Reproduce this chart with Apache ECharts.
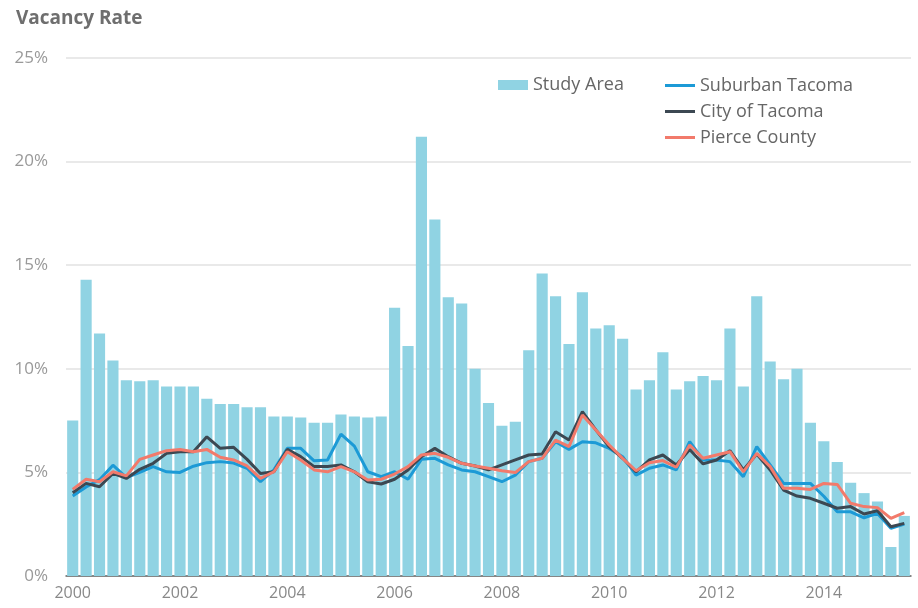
<!DOCTYPE html>
<html>
<head>
<meta charset="utf-8">
<script src="https://cdn.jsdelivr.net/npm/echarts@6/dist/echarts.min.js"></script>
<style>
html,body{margin:0;padding:0;background:#fff;}
#chart{width:918px;height:608px;}
</style>
</head>
<body>
<div id="chart"></div>
<script>
// Quarterly categories 2000 Q1 .. 2015 Q3
const years = ['2000','2001','2002','2003','2004','2005','2006','2007','2008','2009','2010','2011','2012','2013','2014','2015'];
const quarters = ['Q1','Q2','Q3','Q4'];
const categories = [];
years.forEach(y => quarters.forEach(q => categories.push(y + ' ' + q)));
categories.length = 63;

const yTicks = [0, 5, 10, 15, 20, 25];

const studyArea = [
  7.5, 14.3, 11.7, 10.4, 9.45, 9.4, 9.45, 9.15,
  9.15, 9.15, 8.55, 8.3, 8.3, 8.15, 8.15, 7.7,
  7.7, 7.65, 7.4, 7.4, 7.8, 7.7, 7.65, 7.7,
  12.95, 11.1, 21.2, 17.2, 13.45, 13.15, 10.0, 8.35,
  7.25, 7.45, 10.9, 14.6, 13.5, 11.2, 13.7, 11.95,
  12.1, 11.45, 9.0, 9.45, 10.8, 9.0, 9.4, 9.65,
  9.45, 11.95, 9.15, 13.5, 10.35, 9.5, 10.0, 7.4,
  6.5, 5.5, 4.5, 4.0, 3.6, 1.4, 2.9
];

const suburbanTacoma = [
  3.86, 4.3, 4.65, 5.35, 4.75, 5.0, 5.28, 5.03,
  5.0, 5.3, 5.47, 5.52, 5.45, 5.2, 4.55, 5.12,
  6.16, 6.16, 5.56, 5.6, 6.85, 6.27, 5.03, 4.8,
  5.03, 4.67, 5.63, 5.68, 5.36, 5.12, 5.03, 4.8,
  4.55, 4.87, 5.52, 5.68, 6.48, 6.11, 6.48, 6.43,
  6.16, 5.76, 4.87, 5.2, 5.36, 5.12, 6.48, 5.6,
  5.6, 5.52, 4.79, 6.24, 5.36, 4.47, 4.47, 4.47,
  3.85, 3.1, 3.1, 2.81, 3.02, 2.3, 2.51
];

const cityOfTacoma = [
  4.02, 4.47, 4.31, 4.95, 4.71, 5.15, 5.44, 5.92,
  6.0, 6.0, 6.72, 6.16, 6.21, 5.63, 4.95, 5.03,
  6.11, 5.76, 5.28, 5.28, 5.36, 5.03, 4.55, 4.44,
  4.67, 5.12, 5.76, 6.16, 5.76, 5.44, 5.31, 5.12,
  5.36, 5.6, 5.84, 5.89, 6.96, 6.56, 7.93, 7.05,
  6.24, 5.68, 5.03, 5.6, 5.84, 5.36, 6.11, 5.41,
  5.6, 6.05, 5.12, 5.89, 5.12, 4.15, 3.86, 3.75,
  3.51, 3.27, 3.35, 2.99, 3.15, 2.38, 2.54
];

const pierceCounty = [
  4.18, 4.67, 4.55, 5.03, 4.83, 5.63, 5.84, 6.05,
  6.11, 6.0, 6.11, 5.73, 5.6, 5.31, 4.71, 5.03,
  6.0, 5.6, 5.12, 5.03, 5.28, 5.03, 4.63, 4.67,
  4.92, 5.28, 5.84, 5.92, 5.73, 5.44, 5.31, 5.2,
  5.08, 4.99, 5.52, 5.68, 6.56, 6.24, 7.77, 7.05,
  6.32, 5.68, 5.08, 5.47, 5.57, 5.25, 6.32, 5.68,
  5.84, 6.0, 5.03, 5.92, 5.28, 4.23, 4.23, 4.18,
  4.47, 4.42, 3.51, 3.35, 3.3, 2.78, 3.06
];

const FONT = '"Open Sans", Lato, sans-serif';
const chart = echarts.init(document.getElementById('chart'), null, {renderer: 'canvas'});

chart.setOption({
  animation: false,
  backgroundColor: '#ffffff',
  textStyle: {fontFamily: FONT},
  title: {
    text: 'Vacancy Rate',
    left: 11, top: 4,
    textStyle: {fontFamily: FONT, fontSize: 19, fontWeight: 'bold', color: '#6e6e6e'}
  },
  legend: [
    {
      data: [{name: 'Study Area', icon: 'rect'}],
      left: 493, top: 71,
      itemWidth: 30, itemHeight: 10, itemGap: 10,
      textStyle: {fontFamily: FONT, fontSize: 18, color: '#666'}
    },
    {
      data: [
        {name: 'Suburban Tacoma', icon: 'rect'},
        {name: 'City of Tacoma', icon: 'rect'},
        {name: 'Pierce County', icon: 'rect'}
      ],
      orient: 'vertical',
      left: 660, top: 71,
      itemWidth: 30, itemHeight: 3, itemGap: 7,
      textStyle: {fontFamily: FONT, fontSize: 18, color: '#666', lineHeight: 19}
    }
  ],
  grid: {left: 66, right: 7, top: 58, bottom: 32},
  xAxis: {
    type: 'category',
    data: categories,
    boundaryGap: true,
    axisLine: {lineStyle: {color: '#666', width: 1.5}},
    axisTick: {show: false},
    axisLabel: {
      interval: 7,
      margin: 9,
      fontSize: 16, color: '#888', fontFamily: FONT,
      formatter: v => v.split(' ')[0]
    }
  },
  yAxis: {
    type: 'value',
    min: yTicks[0], max: yTicks[yTicks.length - 1], interval: 5,
    axisLine: {show: false},
    axisTick: {show: false},
    splitLine: {lineStyle: {color: '#e2e2e2', width: 1.5}},
    axisLabel: {
      margin: 18,
      fontSize: 17, color: '#999', fontFamily: FONT,
      formatter: '{value}%'
    }
  },
  series: [
    {
      name: 'Study Area', type: 'bar', data: studyArea,
      barCategoryGap: '17%',
      itemStyle: {color: '#90d3e3'}
    },
    {
      name: 'Suburban Tacoma', type: 'line', data: suburbanTacoma,
      symbol: 'none', lineStyle: {color: '#1c9ad6', width: 3}, itemStyle: {color: '#1c9ad6'}
    },
    {
      name: 'City of Tacoma', type: 'line', data: cityOfTacoma,
      symbol: 'none', lineStyle: {color: '#3c4852', width: 3}, itemStyle: {color: '#3c4852'}
    },
    {
      name: 'Pierce County', type: 'line', data: pierceCounty,
      symbol: 'none', lineStyle: {color: '#f27a6b', width: 3}, itemStyle: {color: '#f27a6b'}
    }
  ]
});
</script>
</body>
</html>
